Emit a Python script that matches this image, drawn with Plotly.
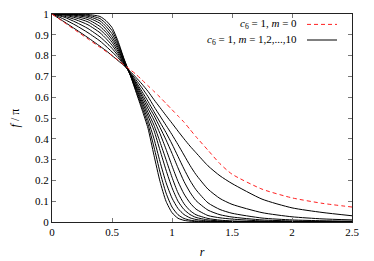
import plotly.graph_objects as go

r = [0, 0.1, 0.2, 0.3, 0.4, 0.45, 0.5, 0.55, 0.6, 0.65, 0.7, 0.75, 0.8, 0.85, 0.9, 0.95,
     1.0, 1.05, 1.1, 1.15, 1.2, 1.3, 1.4, 1.5, 1.75, 2.0, 2.25, 2.5]

f_m0 = [1, 0.96, 0.92, 0.88, 0.84, 0.82, 0.80, 0.778, 0.755, 0.733, 0.71, 0.683, 0.655, 0.628, 0.60, 0.57,
        0.54, 0.51, 0.48, 0.445, 0.41, 0.345, 0.28, 0.23, 0.158, 0.116, 0.09, 0.072]

f_m1 = [1, 0.963, 0.925, 0.886, 0.845, 0.824, 0.80, 0.776, 0.752, 0.725, 0.695, 0.663, 0.628, 0.588, 0.55, 0.512,
        0.475, 0.437, 0.4, 0.365, 0.333, 0.27, 0.222, 0.185, 0.11, 0.068, 0.046, 0.03]
f_m2 = [1, 0.975, 0.945, 0.91, 0.87, 0.845, 0.818, 0.79, 0.755, 0.72, 0.684, 0.645, 0.603, 0.555, 0.51, 0.465,
        0.42, 0.372, 0.322, 0.272, 0.228, 0.158, 0.113, 0.085, 0.045, 0.025, 0.015, 0.01]
f_m3 = [1, 0.985, 0.96, 0.93, 0.89, 0.864, 0.835, 0.80, 0.758, 0.717, 0.674, 0.628, 0.58, 0.53, 0.48, 0.43,
        0.375, 0.315, 0.255, 0.2, 0.155, 0.092, 0.06, 0.042, 0.019, 0.01, 0.006, 0.004]
f_m4 = [1, 0.99, 0.972, 0.948, 0.91, 0.882, 0.85, 0.81, 0.762, 0.715, 0.667, 0.615, 0.562, 0.512, 0.455, 0.395,
        0.33, 0.26, 0.195, 0.143, 0.103, 0.057, 0.035, 0.024, 0.01, 0.005, 0.003, 0.002]
f_m5 = [1, 0.995, 0.981, 0.962, 0.925, 0.898, 0.864, 0.82, 0.766, 0.713, 0.66, 0.603, 0.545, 0.49, 0.425, 0.35,
        0.27, 0.195, 0.135, 0.092, 0.062, 0.031, 0.02, 0.014, 0.005, 0.002, 0.001, 0.001]
f_m6 = [1, 0.997, 0.988, 0.973, 0.94, 0.912, 0.877, 0.83, 0.77, 0.712, 0.652, 0.59, 0.527, 0.465, 0.385, 0.30,
        0.215, 0.14, 0.088, 0.055, 0.035, 0.017, 0.009, 0.005, 0.002, 0.001, 0.0, 0.0]
f_m7 = [1, 0.999, 0.993, 0.982, 0.955, 0.926, 0.89, 0.84, 0.774, 0.711, 0.645, 0.578, 0.51, 0.44, 0.345, 0.25,
        0.165, 0.10, 0.06, 0.036, 0.022, 0.01, 0.005, 0.003, 0.001, 0.0, 0.0, 0.0]
f_m8 = [1, 1, 0.996, 0.989, 0.967, 0.94, 0.905, 0.85, 0.778, 0.71, 0.638, 0.566, 0.49, 0.40, 0.29, 0.19,
        0.115, 0.065, 0.036, 0.02, 0.012, 0.005, 0.002, 0.001, 0.0, 0.0, 0.0, 0.0]
f_m9 = [1, 1, 0.998, 0.994, 0.978, 0.954, 0.92, 0.86, 0.782, 0.71, 0.631, 0.553, 0.47, 0.36, 0.24, 0.14,
        0.072, 0.035, 0.017, 0.009, 0.005, 0.002, 0.001, 0.0, 0.0, 0.0, 0.0, 0.0]
f_m10 = [1, 1, 0.999, 0.998, 0.988, 0.968, 0.935, 0.87, 0.785, 0.71, 0.625, 0.54, 0.45, 0.32, 0.195, 0.10,
         0.045, 0.018, 0.008, 0.004, 0.002, 0.001, 0.0, 0.0, 0.0, 0.0, 0.0, 0.0]

black_series = [f_m1, f_m2, f_m3, f_m4, f_m5, f_m6, f_m7, f_m8, f_m9, f_m10]

x_ticks = [0, 0.5, 1, 1.5, 2, 2.5]
x_tick_labels = ["0", "0.5", "1", "1.5", "2", "2.5"]
y_ticks = [0, 0.1, 0.2, 0.3, 0.4, 0.5, 0.6, 0.7, 0.8, 0.9, 1]
y_tick_labels = ["0", "0.1", "0.2", "0.3", "0.4", "0.5", "0.6", "0.7", "0.8", "0.9", "1"]

legend_labels = ["<i>c</i><sub>6</sub> = 1, <i>m</i> = 0",
                 "<i>c</i><sub>6</sub> = 1, <i>m</i> = 1,2,...,10"]

FONT = "Liberation Serif, Times New Roman, serif"

fig = go.Figure()
for ys in black_series:
    fig.add_trace(go.Scatter(x=r, y=ys, mode="lines",
                             line=dict(color="black", width=1, shape="spline", smoothing=0.6),
                             showlegend=False, hoverinfo="skip"))
fig.add_trace(go.Scatter(x=r, y=f_m0, mode="lines",
                         line=dict(color="#ff2020", width=1, dash="4px,3px", shape="spline", smoothing=0.6),
                         showlegend=False, hoverinfo="skip"))

axis_common = dict(showgrid=False, zeroline=False, showline=True, linecolor="#222", linewidth=1,
                   mirror="ticks", ticks="inside", ticklen=4, tickcolor="#777", tickwidth=1,
                   automargin=False,
                   tickfont=dict(family=FONT, size=11, color="black"))

fig.update_xaxes(range=[0, 2.5], tickvals=x_ticks, ticktext=x_tick_labels,
                 title=dict(text="<i>r</i>", font=dict(family=FONT, size=12, color="black"), standoff=10),
                 **axis_common)
fig.update_yaxes(range=[0, 1], tickvals=y_ticks, ticktext=y_tick_labels,
                 title=dict(text="<i>f</i> / π", font=dict(family=FONT, size=12, color="black"), standoff=12),
                 **axis_common)

# legend drawn gnuplot-style: text right-aligned, sample to its right
leg_y = [0.95, 0.875]
for i, lab in enumerate(legend_labels):
    fig.add_annotation(x=0.823, y=leg_y[i], xref="paper", yref="paper", text=lab,
                       showarrow=False, xanchor="right", yanchor="middle",
                       font=dict(family=FONT, size=11, color="black"))
fig.add_shape(type="line", xref="paper", yref="paper", x0=0.85, x1=0.95, y0=leg_y[0], y1=leg_y[0],
              line=dict(color="#ff2020", width=1, dash="4px,3px"))
fig.add_shape(type="line", xref="paper", yref="paper", x0=0.85, x1=0.95, y0=leg_y[1], y1=leg_y[1],
              line=dict(color="black", width=1))

fig.update_layout(width=374, height=261, margin=dict(l=52, r=22, t=14, b=39, autoexpand=False),
                  plot_bgcolor="white", paper_bgcolor="white", showlegend=False)

fig.write_html("out.html", config={"displayModeBar": False, "staticPlot": True},
               post_script="document.body.style.margin='0';document.body.style.overflow='hidden';")
